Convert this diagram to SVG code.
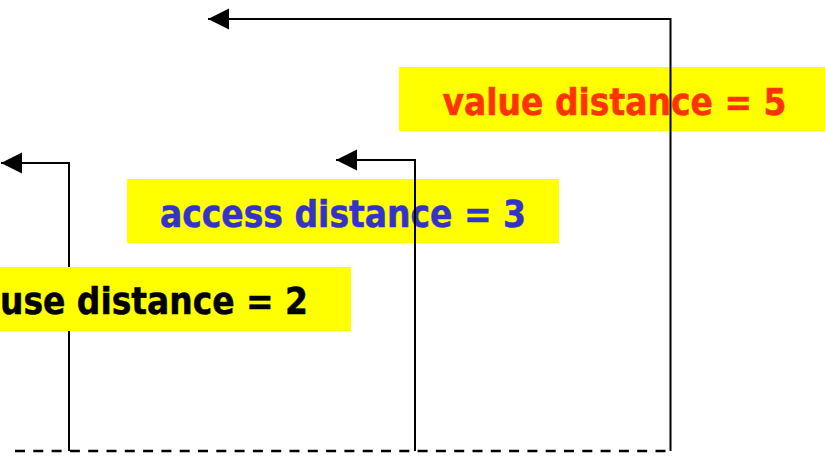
<svg xmlns="http://www.w3.org/2000/svg" width="825" height="458" viewBox="0 0 825 458">
<style>
.box{fill:#FFFF00}
.lbl{font-family:"DejaVu Sans Condensed","DejaVu Sans",Verdana,sans-serif;font-weight:bold;font-size:38px;stroke-width:0.5;stroke-linejoin:round}
.ln{fill:none;stroke:#000;stroke-width:2}
.dash{fill:none;stroke:#000;stroke-width:2.3;stroke-dasharray:10 8.3}
</style>
<defs>
<marker id="ah" markerUnits="userSpaceOnUse" markerWidth="22" markerHeight="22" refX="21" refY="10.5" orient="auto">
<path d="M0,0 L21,10.5 L0,21 Z" fill="#000"/>
</marker>
</defs>
<rect width="825" height="458" fill="#fff"/>
<g id="value-distance">
<rect class="box" x="399" y="67" width="426" height="64"/>
<text class="lbl" x="442.5" y="115" fill="#FF3300" stroke="#FF3300" textLength="344" lengthAdjust="spacingAndGlyphs">value distance = 5</text>
</g>
<g id="access-distance">
<rect class="box" x="127" y="179" width="432" height="64"/>
<text class="lbl" x="160" y="227" fill="#3333CC" stroke="#3333CC" textLength="366" lengthAdjust="spacingAndGlyphs">access distance = 3</text>
</g>
<g id="connectors">
<line class="dash" x1="15" y1="451" x2="670.5" y2="451"/>
<polyline class="ln" points="69,451 69,163 1,163" marker-end="url(#ah)"/>
<polyline class="ln" points="415,451 415,160 336,160" marker-end="url(#ah)"/>
<polyline class="ln" points="670.5,451 670.5,19 208,19" marker-end="url(#ah)"/>
</g>
<g id="use-distance">
<rect class="box" x="-5" y="267" width="356" height="64"/>
<text class="lbl" x="308" y="314" fill="#000" stroke="#000" text-anchor="end" textLength="308" lengthAdjust="spacingAndGlyphs">use distance = 2</text>
</g>
</svg>
